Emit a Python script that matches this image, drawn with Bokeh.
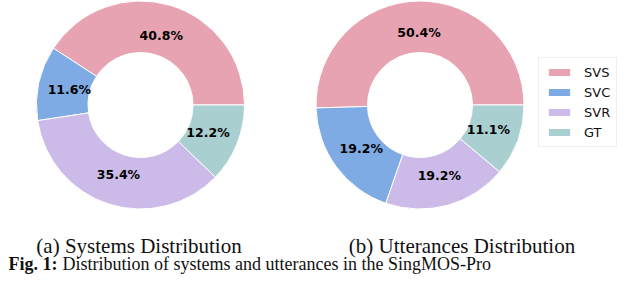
import math
from bokeh.plotting import figure
from bokeh.models import Range1d, Legend, LegendItem, ColumnDataSource
from bokeh.core.properties import value
from bokeh.embed import file_html
from bokeh.resources import INLINE

# ---- data ----
categories = ["SVS", "SVC", "SVR", "GT"]
systems_pct = [40.8, 11.6, 35.4, 12.2]
utterances_pct = [50.4, 19.2, 19.2, 11.1]
colors = ["#E8A3B2", "#7EABE3", "#CCBBE9", "#AACFD0"]
panel_titles = ["(a) Systems Distribution", "(b) Utterances Distribution"]
fig_label = "Fig. 1:"
fig_caption = "Distribution of systems and utterances in the SingMOS-Pro"

# ---- layout (picture pixel coordinates) ----
W, H = 624, 275
centers_x = [140, 419.5]
center_y = 104.5
R_OUT, R_IN = 104, 52.5
PCT_R = 0.70 * R_OUT

p = figure(width=W, height=H, x_range=Range1d(0, W), y_range=Range1d(H, 0),
           output_backend="svg", toolbar_location=None, min_border=0,
           x_axis_location=None, y_axis_location=None)
p.grid.visible = False
p.outline_line_color = None
p.background_fill_color = "white"


def donut(cx, vals):
    total = sum(vals)
    starts, ends, lx, ly, labels = [], [], [], [], []
    acc = 0.0
    for v in vals:
        a0 = acc / total * 2 * math.pi
        acc += v
        a1 = acc / total * 2 * math.pi
        starts.append(a0)
        ends.append(a1)
        mid = (a0 + a1) / 2
        lx.append(cx + PCT_R * math.cos(mid))
        ly.append(center_y - PCT_R * math.sin(mid))
        labels.append(f"{v:.1f}%")
    src = ColumnDataSource(dict(start=starts, end=ends, color=colors, cat=categories))
    r = p.annular_wedge(x=cx, y=center_y, inner_radius=R_IN, outer_radius=R_OUT,
                        start_angle="start", end_angle="end", fill_color="color",
                        line_color="white", line_width=1, source=src)
    p.text(x=lx, y=ly, text=labels, text_align="center", text_baseline="middle",
           text_font=value("DejaVu Sans"), text_font_style="bold",
           text_font_size="12.5px", text_color="#000000")
    return r


r_left = donut(centers_x[0], systems_pct)
r_right = donut(centers_x[1], utterances_pct)

# captions
p.text(x=[138.5, 461.5], y=[245, 245], text=panel_titles, text_align="center",
       text_baseline="alphabetic", text_font=value("Liberation Serif"),
       text_font_size="21px", text_color="#111111")
p.text(x=[8], y=[263], text=[fig_label], text_align="left", text_baseline="alphabetic",
       text_font=value("Liberation Serif"), text_font_style="bold",
       text_font_size="18px", text_color="#111111")
p.text(x=[62], y=[263], text=[fig_caption], text_align="left", text_baseline="alphabetic",
       text_font=value("Liberation Serif"), text_font_size="18px", text_color="#111111")

items = [LegendItem(label=c, renderers=[r_left], index=i) for i, c in enumerate(categories)]
legend = Legend(items=items, location=(538, 128), orientation="vertical", margin=0,
                padding=6, spacing=4, label_height=16, glyph_height=10, glyph_width=28,
                label_standoff=11, label_text_font="DejaVu Sans",
                label_text_font_size="13px", label_text_color="#111111",
                border_line_color="#dddddd", border_line_width=1,
                background_fill_color="white", background_fill_alpha=0.8)
p.add_layout(legend)

open("out.html", "w").write(file_html(p, INLINE))
